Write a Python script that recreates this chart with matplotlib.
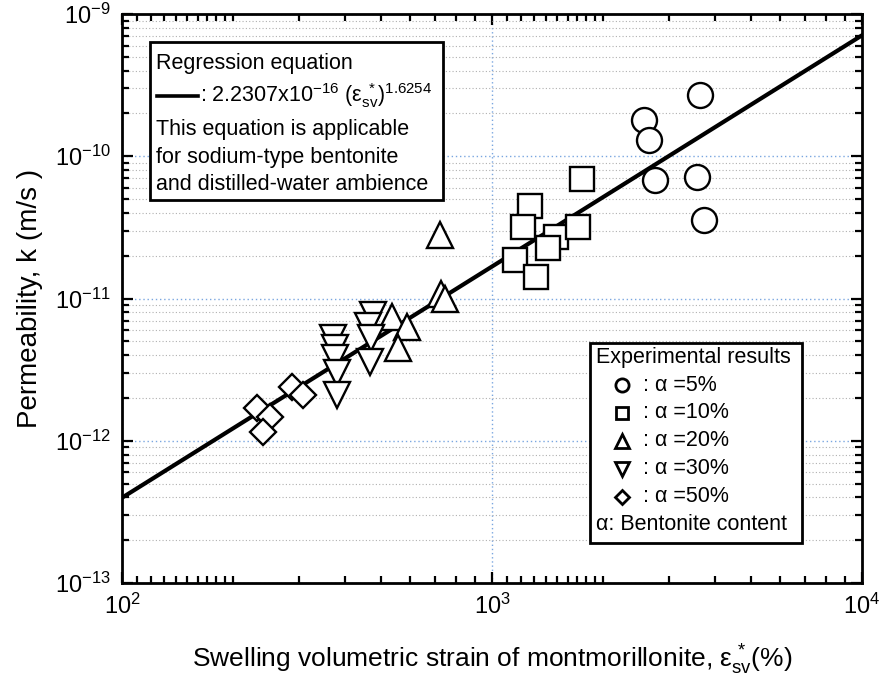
import numpy as np
import matplotlib
matplotlib.use("Agg")
import matplotlib.pyplot as plt
from matplotlib.ticker import LogLocator, FuncFormatter, NullFormatter
from matplotlib.lines import Line2D
from matplotlib.patches import Rectangle

plt.rcParams['font.family'] = ['Liberation Sans', 'DejaVu Sans']
plt.rcParams['mathtext.fontset'] = 'custom'
plt.rcParams['mathtext.rm'] = 'Liberation Sans'
plt.rcParams['mathtext.it'] = 'Liberation Sans'
plt.rcParams['mathtext.default'] = 'regular'

# ---- data ----
x_a5 = [3650, 2580, 2660, 2760, 3580, 3740]
k_a5 = [2.7e-10, 1.8e-10, 1.3e-10, 6.8e-11, 7.15e-11, 3.56e-11]

x_a10 = [1750, 1268, 1214, 1490, 1706, 1416, 1153, 1315]
k_a10 = [6.9e-11, 4.47e-11, 3.18e-11, 2.7e-11, 3.18e-11, 2.26e-11, 1.87e-11, 1.42e-11]

x_a20 = [722, 727, 745, 537, 589, 557]
k_a20 = [2.8e-11, 1.07e-11, 1.0e-11, 7.4e-12, 6.3e-12, 4.5e-12]

x_a30 = [477, 462, 470, 468, 372, 376, 376, 381, 381]
k_a30 = [7.6e-12, 6.4e-12, 5.3e-12, 3.6e-12, 5.3e-12, 4.5e-12, 3.8e-12, 3.0e-12, 2.1e-12]

x_a50 = [232, 251, 240, 288, 308]
k_a50 = [1.70e-12, 1.47e-12, 1.15e-12, 2.39e-12, 2.10e-12]

reg_coef = 2.2307e-16
reg_exp = 1.6254
x_range = [100, 10000]

legend_labels = [': α =5%', ': α =10%', ': α =20%', ': α =30%', ': α =50%']
markers = ['o', 's', '^', 'v', 'D']

# ---- figure ----
W, H = 880, 682
fig = plt.figure(figsize=(W / 100, H / 100), dpi=100)
L, R, T, B = 122, 862, 14, 583
ax = fig.add_axes([L / W, 1 - B / H, (R - L) / W, (B - T) / H])
ax.set_xscale('log')
ax.set_yscale('log')
ax.set_xlim(x_range)
ax.set_ylim(1e-13, 1e-9)

def fx(px):
    return px / W

def fy(py):
    return 1 - py / H

# grid
ax.yaxis.grid(True, which='minor', color='#b0b0b0', linestyle=(0, (1, 2)), linewidth=0.8)
ax.yaxis.grid(True, which='major', color='#7aa6e0', linestyle=(0, (1, 2)), linewidth=1.0)
ax.xaxis.grid(True, which='major', color='#7aa6e0', linestyle=(0, (1, 2)), linewidth=1.0)
ax.set_axisbelow(True)

# regression line
xs = np.logspace(2, 4, 200)
ax.plot(xs, reg_coef * xs ** reg_exp, color='black', lw=3.0, zorder=3)

mk = dict(linestyle='none', mfc='white', mec='black', mew=1.7, zorder=4)
ax.plot(x_a5, k_a5, marker='o', ms=18, **mk)
ax.plot(x_a10, k_a10, marker='s', ms=17, **mk)
ax.plot(x_a20, k_a20, marker='^', ms=19, **mk)
ax.plot(x_a30, k_a30, marker='v', ms=19, **mk)
ax.plot(x_a50, k_a50, marker='D', ms=13, **mk)

# ticks
ax.xaxis.set_minor_locator(LogLocator(base=10, subs=[1.1, 1.2, 1.3, 1.4, 1.5, 1.6, 1.7, 1.8, 1.9, 2, 3, 4, 5, 6, 7, 8, 9], numticks=30))
ax.yaxis.set_minor_locator(LogLocator(base=10, subs=np.arange(2, 10), numticks=30))
ax.xaxis.set_minor_formatter(NullFormatter())
ax.yaxis.set_minor_formatter(NullFormatter())
fmt = FuncFormatter(lambda v, p: r'$10^{%d}$' % int(round(np.log10(v))))
ax.xaxis.set_major_formatter(fmt)
ax.yaxis.set_major_formatter(fmt)
ax.tick_params(which='both', direction='in', top=True, right=True, width=1.6, color='black')
ax.tick_params(which='major', length=8, labelsize=17, pad=8)
ax.tick_params(which='minor', length=5)
for s in ax.spines.values():
    s.set_linewidth(2.0)

ax.set_xlabel('Swelling volumetric strain of montmorillonite, ε$_{sv}^{\\,*}$(%)', fontsize=19)
ax.set_ylabel('Permeability, k (m/s )', fontsize=20)
ax.xaxis.set_label_coords(0.5, (fy(660) - fy(B)) / ((B - T) / H), transform=ax.transAxes)
ax.yaxis.set_label_coords((fx(30) - fx(L)) / ((R - L) / W), 0.5, transform=ax.transAxes)
ax.xaxis.label.set_va('center')
ax.yaxis.label.set_va('center')

# ---- regression box (top-left) ----
fig.add_artist(Rectangle((fx(150), fy(200)), fx(443) - fx(150), fy(42) - fy(200),
                         transform=fig.transFigure, fill=True, facecolor='white',
                         edgecolor='black', lw=2.0, zorder=5))
tk = dict(fontsize=15.5, va='center', ha='left', zorder=6)
fig.text(fx(156), fy(63), 'Regression equation', **tk)
fig.add_artist(Line2D([fx(157), fx(198)], [fy(96), fy(96)], transform=fig.transFigure,
                      color='black', lw=2.6, zorder=6))
fig.text(fx(200), fy(96), ': 2.2307x10$^{-16}$ (ε$_{sv}^{\\ *}$)$^{1.6254}$', **tk)
fig.text(fx(156), fy(130), 'This equation is applicable', **tk)
fig.text(fx(156), fy(157), 'for sodium-type bentonite', **tk)
fig.text(fx(156), fy(184), 'and distilled-water ambience', **tk)

# ---- experimental results box (bottom-right) ----
fig.add_artist(Rectangle((fx(590), fy(543)), fx(802) - fx(590), fy(343) - fy(543),
                         transform=fig.transFigure, fill=True, facecolor='white',
                         edgecolor='black', lw=2.0, zorder=5))
tk2 = dict(tk, fontsize=15.5)
fig.text(fx(596), fy(357), 'Experimental results', **tk2)
ys = [385, 413, 441, 469, 497]
lms = [9.5, 9, 9.5, 9.5, 7]
for yy, m, lab, sz in zip(ys, markers, legend_labels, lms):
    fig.add_artist(Line2D([fx(622)], [fy(yy)], transform=fig.transFigure, marker=m,
                          ms=sz, mfc='white', mec='black', mew=2.0, linestyle='none', zorder=6))
    fig.text(fx(643), fy(yy), lab, **tk2)
fig.text(fx(596), fy(525), 'α: Bentonite content', **tk2)

fig.savefig('out.png', dpi=100)
